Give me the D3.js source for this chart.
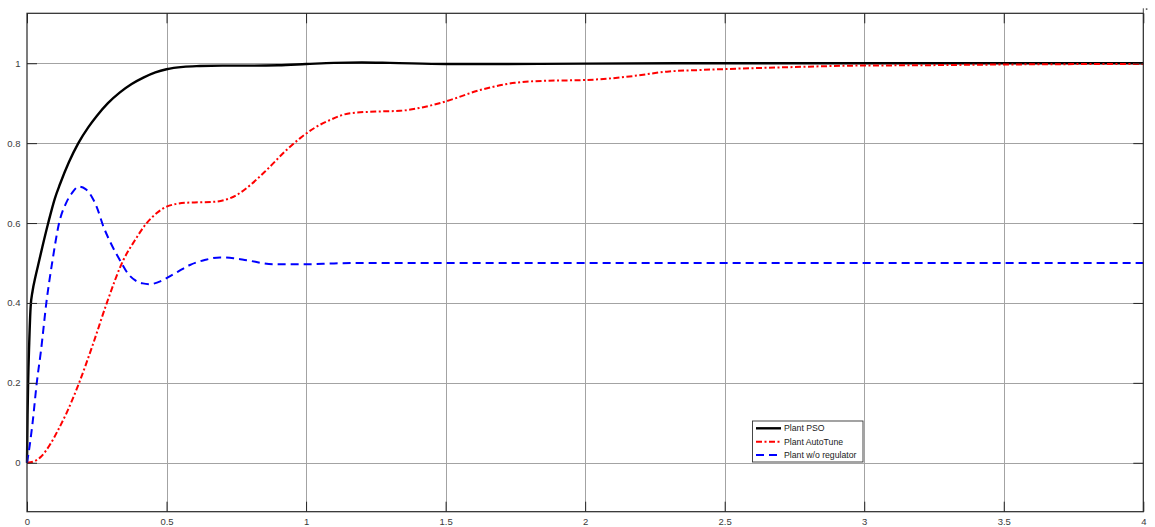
<!DOCTYPE html>
<html>
<head>
<meta charset="utf-8">
<script src="https://cdn.jsdelivr.net/npm/d3@7/dist/d3.min.js"></script>
<style>
  html, body { margin: 0; padding: 0; background: #fff; }
  svg { display: block; font-family: "Liberation Sans", Arial, sans-serif; }
</style>
</head>
<body>
<svg id="chart" width="1155" height="527"></svg>
<script>
// Step responses: time (s) and output for each controller setup
const psoT  = [0, 0.002, 0.004, 0.008, 0.013, 0.02, 0.03, 0.04, 0.055, 0.076, 0.1, 0.118, 0.15, 0.184, 0.22, 0.25, 0.29, 0.333, 0.375, 0.417, 0.46, 0.5, 0.56, 0.62, 0.7, 0.8, 0.9, 1.0, 1.1, 1.2, 1.3, 1.5, 1.7, 2.0, 2.5, 3.0, 3.5, 4.0];
const psoV  = [0, 0.12, 0.2, 0.3, 0.39, 0.43, 0.465, 0.495, 0.54, 0.6, 0.662, 0.697, 0.752, 0.80, 0.84, 0.868, 0.9, 0.927, 0.948, 0.964, 0.977, 0.985, 0.991, 0.993, 0.994, 0.994, 0.995, 0.998, 1.001, 1.002, 1.001, 0.998, 0.998, 0.999, 1.0, 1.0, 1.0, 1.0];

const autoT = [0, 0.023, 0.05, 0.082, 0.11, 0.142, 0.184, 0.238, 0.286, 0.345, 0.385, 0.429, 0.465, 0.5, 0.572, 0.62, 0.668, 0.751, 0.8, 0.859, 0.93, 0.978, 1.03, 1.086, 1.158, 1.25, 1.337, 1.42, 1.498, 1.624, 1.749, 1.85, 2.0, 2.054, 2.173, 2.293, 2.41, 2.484, 2.723, 2.962, 3.2, 3.44, 3.9, 4.0];
const autoV = [0, 0.003, 0.015, 0.045, 0.08, 0.125, 0.195, 0.3, 0.4, 0.507, 0.555, 0.6, 0.625, 0.641, 0.651, 0.652, 0.653, 0.670, 0.695, 0.733, 0.783, 0.812, 0.838, 0.858, 0.875, 0.879, 0.881, 0.89, 0.904, 0.933, 0.951, 0.956, 0.958, 0.960, 0.968, 0.979, 0.983, 0.985, 0.990, 0.994, 0.995, 0.9965, 0.998, 0.998];

const openT = [0, 0.01, 0.02, 0.035, 0.05, 0.0705, 0.09, 0.115, 0.14, 0.16, 0.185, 0.21, 0.232, 0.25, 0.274, 0.3, 0.333, 0.36, 0.387, 0.415, 0.441, 0.47, 0.5, 0.54, 0.584, 0.64, 0.692, 0.74, 0.787, 0.883, 1.0, 1.1, 1.2, 1.5, 2.0, 3.0, 4.0];
const openV = [0, 0.045, 0.1, 0.2, 0.28, 0.407, 0.5, 0.6, 0.65, 0.674, 0.691, 0.685, 0.666, 0.64, 0.591, 0.55, 0.507, 0.475, 0.457, 0.449, 0.447, 0.452, 0.462, 0.478, 0.495, 0.508, 0.514, 0.512, 0.507, 0.497, 0.497, 0.499, 0.5, 0.5, 0.5, 0.5, 0.5];

const xTicks = [0, 0.5, 1, 1.5, 2, 2.5, 3, 3.5, 4];
const xTickLabels = ["0", "0.5", "1", "1.5", "2", "2.5", "3", "3.5", "4"];
const yTicks = [0, 0.2, 0.4, 0.6, 0.8, 1];
const yTickLabels = ["0", "0.2", "0.4", "0.6", "0.8", "1"];

const seriesNames = ["Plant PSO", "Plant AutoTune", "Plant w/o regulator"];

const series = [
  { name: seriesNames[0], t: psoT,  v: psoV,  color: "#000000", width: 2.4, dash: null },
  { name: seriesNames[1], t: autoT, v: autoV, color: "#ff0000", width: 2,   dash: "6,2.5,2,2.5" },
  { name: seriesNames[2], t: openT, v: openV, color: "#0000ff", width: 2,   dash: "8,5" }
];

const svg = d3.select("#chart");
const plotLeft = 27, plotTop = 13.3, plotRight = 1143.3, plotBottom = 511.7;

const x = d3.scaleLinear().domain([0, 4]).range([plotLeft, plotRight]);
const y = d3.scaleLinear().domain([-0.1225, 1.125]).range([plotBottom, plotTop]);

// Grid
const grid = svg.append("g").attr("shape-rendering", "crispEdges");
grid.selectAll("line.vx").data(xTicks.slice(1, -1)).join("line")
  .attr("x1", d => Math.round(x(d)) + 0.5).attr("x2", d => Math.round(x(d)) + 0.5)
  .attr("y1", plotTop).attr("y2", plotBottom)
  .attr("stroke", "#a3a3a3").attr("stroke-width", 1);
grid.selectAll("line.hy").data(yTicks).join("line")
  .attr("y1", d => Math.round(y(d)) + 0.5).attr("y2", d => Math.round(y(d)) + 0.5)
  .attr("x1", plotLeft).attr("x2", plotRight)
  .attr("stroke", "#a3a3a3").attr("stroke-width", 1);

// Curves
const line = d3.line().curve(d3.curveMonotoneX).x(d => x(d[0])).y(d => y(d[1]));
const plot = svg.append("g");
series.forEach(s => {
  plot.append("path")
    .datum(s.t.map((t, i) => [t, s.v[i]]))
    .attr("d", line)
    .attr("fill", "none")
    .attr("stroke", s.color)
    .attr("stroke-width", s.width)
    .attr("stroke-dasharray", s.dash)
    .attr("stroke-linejoin", "round");
});

// Axes box with inward ticks on all four sides
const axisColor = "#262626";
const tickLen = 10;
const axisBottom = d3.axisBottom(x).tickValues(xTicks).tickSize(-tickLen).tickSizeOuter(0)
  .tickFormat((d, i) => xTickLabels[i]);
const gx = svg.append("g").attr("transform", `translate(0,${plotBottom})`).call(axisBottom);
gx.select(".domain").remove();
gx.selectAll(".tick line").attr("stroke", axisColor);
gx.selectAll(".tick text").attr("fill", "#3a3a3a").style("font-size", "9.5px")
  .attr("y", 13.3).attr("dy", null);

const axisTop = d3.axisTop(x).tickValues(xTicks).tickSize(-tickLen).tickSizeOuter(0).tickFormat("");
const gxt = svg.append("g").attr("transform", `translate(0,${plotTop})`).call(axisTop);
gxt.select(".domain").remove();
gxt.selectAll(".tick line").attr("stroke", axisColor);

const axisLeft = d3.axisLeft(y).tickValues(yTicks).tickSize(-tickLen).tickSizeOuter(0)
  .tickFormat((d, i) => yTickLabels[i]);
const gy = svg.append("g").attr("transform", `translate(${plotLeft},0)`).call(axisLeft);
gy.select(".domain").remove();
gy.selectAll(".tick line").attr("stroke", axisColor);
gy.selectAll(".tick text").attr("fill", "#3a3a3a").style("font-size", "9.5px").attr("x", -6.5);

const axisRight = d3.axisRight(y).tickValues(yTicks).tickSize(-tickLen).tickSizeOuter(0).tickFormat("");
const gyr = svg.append("g").attr("transform", `translate(${plotRight},0)`).call(axisRight);
gyr.select(".domain").remove();
gyr.selectAll(".tick line").attr("stroke", axisColor);

svg.append("rect")
  .attr("x", plotLeft).attr("y", plotTop)
  .attr("width", plotRight - plotLeft).attr("height", plotBottom - plotTop)
  .attr("fill", "none").attr("stroke", axisColor).attr("stroke-width", 1.2);

// Small figure-corner marker at the top right
svg.append("line")
  .attr("x1", plotRight).attr("x2", plotRight)
  .attr("y1", plotTop).attr("y2", plotTop - 5)
  .attr("stroke", "#444").attr("stroke-width", 1);
svg.append("rect").attr("x", plotRight + 2.5).attr("y", plotTop - 5)
  .attr("width", 1.6).attr("height", 1.6).attr("fill", "#555");

// Legend
const lg = svg.append("g").attr("transform", "translate(752.5,421)");
lg.append("rect").attr("width", 110.5).attr("height", 41)
  .attr("fill", "#fff").attr("stroke", "#333").attr("stroke-width", 0.9);
const rows = lg.selectAll("g.row").data(series).join("g")
  .attr("transform", (d, i) => `translate(0,${7.3 + i * 13.4})`);
rows.append("line")
  .attr("x1", 3.5).attr("x2", 28.5).attr("y1", 0).attr("y2", 0)
  .attr("stroke", d => d.color).attr("stroke-width", d => d.width)
  .attr("stroke-dasharray", d => d.dash);
rows.append("text")
  .attr("x", 31.5).attr("y", 0).attr("dy", "0.35em")
  .style("font-size", "8.7px").attr("fill", "#1a1a1a")
  .text(d => d.name);
</script>
</body>
</html>
